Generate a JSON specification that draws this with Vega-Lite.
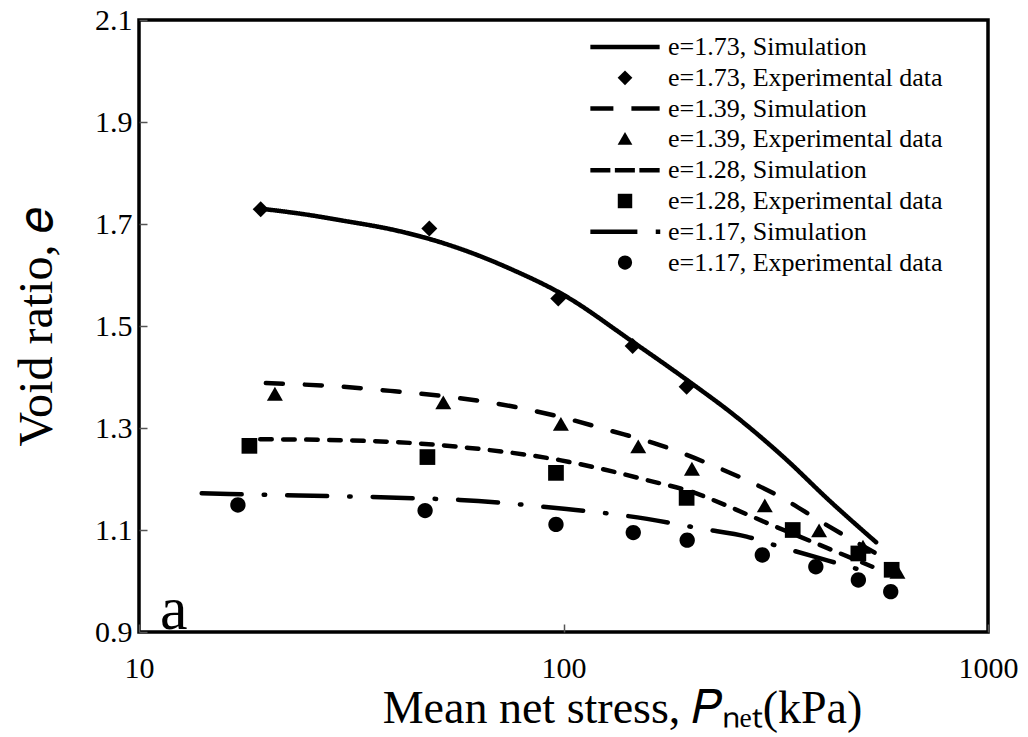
{
  "$schema": "https://vega.github.io/schema/vega-lite/v6.json",
  "width": 849,
  "height": 612,
  "autosize": {"type": "none"},
  "padding": {"left": 139, "top": 20, "right": 40, "bottom": 105},
  "background": "white",
  "config": {
    "font": "Liberation Serif",
    "view": {"stroke": "black", "strokeWidth": 3.5},
    "axis": {"grid": false, "domain": false}
  },
  "datasets": {
    "sim": [
      {"series": "e=1.73, Simulation", "P": 19.4, "e": 1.730},
      {"series": "e=1.73, Simulation", "P": 25, "e": 1.718},
      {"series": "e=1.73, Simulation", "P": 30, "e": 1.707},
      {"series": "e=1.73, Simulation", "P": 40, "e": 1.688},
      {"series": "e=1.73, Simulation", "P": 50, "e": 1.667},
      {"series": "e=1.73, Simulation", "P": 60, "e": 1.645},
      {"series": "e=1.73, Simulation", "P": 75, "e": 1.612},
      {"series": "e=1.73, Simulation", "P": 100, "e": 1.561},
      {"series": "e=1.73, Simulation", "P": 145, "e": 1.470},
      {"series": "e=1.73, Simulation", "P": 200, "e": 1.388},
      {"series": "e=1.73, Simulation", "P": 250, "e": 1.328},
      {"series": "e=1.73, Simulation", "P": 336, "e": 1.237},
      {"series": "e=1.73, Simulation", "P": 420, "e": 1.160},
      {"series": "e=1.73, Simulation", "P": 545, "e": 1.076},
      {"series": "e=1.39, Simulation", "P": 19.9, "e": 1.388},
      {"series": "e=1.39, Simulation", "P": 30, "e": 1.381},
      {"series": "e=1.39, Simulation", "P": 40, "e": 1.372},
      {"series": "e=1.39, Simulation", "P": 54, "e": 1.361},
      {"series": "e=1.39, Simulation", "P": 75, "e": 1.343},
      {"series": "e=1.39, Simulation", "P": 98, "e": 1.322},
      {"series": "e=1.39, Simulation", "P": 130, "e": 1.294},
      {"series": "e=1.39, Simulation", "P": 168, "e": 1.267},
      {"series": "e=1.39, Simulation", "P": 224, "e": 1.227},
      {"series": "e=1.39, Simulation", "P": 324, "e": 1.165},
      {"series": "e=1.39, Simulation", "P": 420, "e": 1.108},
      {"series": "e=1.39, Simulation", "P": 545, "e": 1.054},
      {"series": "e=1.28, Simulation", "P": 19.3, "e": 1.278},
      {"series": "e=1.28, Simulation", "P": 30, "e": 1.276},
      {"series": "e=1.28, Simulation", "P": 45, "e": 1.270},
      {"series": "e=1.28, Simulation", "P": 60, "e": 1.261},
      {"series": "e=1.28, Simulation", "P": 98, "e": 1.237},
      {"series": "e=1.28, Simulation", "P": 157, "e": 1.198},
      {"series": "e=1.28, Simulation", "P": 210, "e": 1.169},
      {"series": "e=1.28, Simulation", "P": 225, "e": 1.159},
      {"series": "e=1.28, Simulation", "P": 309, "e": 1.110},
      {"series": "e=1.28, Simulation", "P": 420, "e": 1.064},
      {"series": "e=1.28, Simulation", "P": 534, "e": 1.028},
      {"series": "e=1.17, Simulation", "P": 14.05, "e": 1.172},
      {"series": "e=1.17, Simulation", "P": 20.3, "e": 1.169},
      {"series": "e=1.17, Simulation", "P": 30, "e": 1.166},
      {"series": "e=1.17, Simulation", "P": 45.9, "e": 1.162},
      {"series": "e=1.17, Simulation", "P": 57, "e": 1.159},
      {"series": "e=1.17, Simulation", "P": 101.6, "e": 1.141},
      {"series": "e=1.17, Simulation", "P": 140, "e": 1.128},
      {"series": "e=1.17, Simulation", "P": 184, "e": 1.112},
      {"series": "e=1.17, Simulation", "P": 210, "e": 1.103},
      {"series": "e=1.17, Simulation", "P": 270, "e": 1.087},
      {"series": "e=1.17, Simulation", "P": 324, "e": 1.067},
      {"series": "e=1.17, Simulation", "P": 420, "e": 1.040},
      {"series": "e=1.17, Simulation", "P": 545, "e": 1.013}
    ],
    "exp": [
      {"series": "e=1.73, Experimental data", "P": 19.35, "e": 1.729},
      {"series": "e=1.73, Experimental data", "P": 48.3, "e": 1.691},
      {"series": "e=1.73, Experimental data", "P": 97.2, "e": 1.554},
      {"series": "e=1.73, Experimental data", "P": 145.5, "e": 1.461},
      {"series": "e=1.73, Experimental data", "P": 195, "e": 1.381},
      {"series": "e=1.39, Experimental data", "P": 20.9, "e": 1.365},
      {"series": "e=1.39, Experimental data", "P": 52.1, "e": 1.348},
      {"series": "e=1.39, Experimental data", "P": 98.6, "e": 1.306},
      {"series": "e=1.39, Experimental data", "P": 150, "e": 1.262},
      {"series": "e=1.39, Experimental data", "P": 200.7, "e": 1.218},
      {"series": "e=1.39, Experimental data", "P": 298, "e": 1.146},
      {"series": "e=1.39, Experimental data", "P": 400, "e": 1.097},
      {"series": "e=1.39, Experimental data", "P": 507.6, "e": 1.065},
      {"series": "e=1.39, Experimental data", "P": 612, "e": 1.016},
      {"series": "e=1.28, Experimental data", "P": 18.2, "e": 1.265},
      {"series": "e=1.28, Experimental data", "P": 47.8, "e": 1.243},
      {"series": "e=1.28, Experimental data", "P": 96, "e": 1.212},
      {"series": "e=1.28, Experimental data", "P": 195, "e": 1.163},
      {"series": "e=1.28, Experimental data", "P": 346.7, "e": 1.100},
      {"series": "e=1.28, Experimental data", "P": 495, "e": 1.054},
      {"series": "e=1.28, Experimental data", "P": 593, "e": 1.022},
      {"series": "e=1.17, Experimental data", "P": 17.1, "e": 1.149},
      {"series": "e=1.17, Experimental data", "P": 47.2, "e": 1.138},
      {"series": "e=1.17, Experimental data", "P": 96, "e": 1.111},
      {"series": "e=1.17, Experimental data", "P": 146, "e": 1.095},
      {"series": "e=1.17, Experimental data", "P": 195.6, "e": 1.080},
      {"series": "e=1.17, Experimental data", "P": 294, "e": 1.051},
      {"series": "e=1.17, Experimental data", "P": 393, "e": 1.028},
      {"series": "e=1.17, Experimental data", "P": 495, "e": 1.002},
      {"series": "e=1.17, Experimental data", "P": 590, "e": 0.979}
    ],
    "note": [{"P": 11.2, "e": 0.906, "t": "a"}]
  },
  "encoding": {
    "x": {
      "field": "P", "type": "quantitative",
      "scale": {"type": "log", "domain": [10, 1000]},
      "axis": {
        "values": [10, 100, 1000], "format": "d",
        "title": "Mean net stress, 𝑃ₙₑₜ(kPa)",
        "titleFont": "Liberation Serif", "titleFontSize": 46, "titleFontWeight": "normal", "titleColor": "black", "titlePadding": 3,
        "titleX": 483,
        "labelFont": "Liberation Serif", "labelFontSize": 30, "labelColor": "black", "labelPadding": 29,
        "labelFlush": false, "labelOverlap": false,
        "tickSize": -8, "tickColor": "#555555", "tickWidth": 1.5
      }
    },
    "y": {
      "field": "e", "type": "quantitative",
      "scale": {"domain": [0.9, 2.1], "nice": false, "zero": false},
      "axis": {
        "values": [0.9, 1.1, 1.3, 1.5, 1.7, 1.9, 2.1], "format": ".1f",
        "title": "Void ratio, 𝑒",
        "titleFont": "Liberation Serif", "titleFontSize": 48, "titleFontWeight": "normal", "titleColor": "black", "titlePadding": 33,
        "labelFont": "Liberation Serif", "labelFontSize": 30, "labelColor": "black", "labelPadding": 15,
        "labelOverlap": false,
        "tickSize": -8, "tickColor": "#555555", "tickWidth": 1.5
      }
    }
  },
  "layer": [
    {
      "data": {"name": "sim"},
      "mark": {"type": "line", "color": "black", "strokeWidth": 4.5, "strokeCap": "round", "interpolate": "monotone"},
      "encoding": {
        "strokeDash": {
          "field": "series", "type": "nominal",
          "scale": {
            "domain": ["e=1.73, Simulation", "e=1.39, Simulation", "e=1.28, Simulation", "e=1.17, Simulation"],
            "range": [[1, 0], [17, 22], [11.5, 11.5], [40, 22, 1.5, 22]]
          },
          "legend": null
        }
      }
    },
    {
      "data": {"name": "exp"},
      "mark": {"type": "point", "filled": true, "color": "black", "opacity": 1, "size": 354},
      "encoding": {
        "shape": {
          "field": "series", "type": "nominal",
          "scale": {
            "domain": ["e=1.73, Simulation", "e=1.73, Experimental data", "e=1.39, Simulation", "e=1.39, Experimental data", "e=1.28, Simulation", "e=1.28, Experimental data", "e=1.17, Simulation", "e=1.17, Experimental data"],
            "range": [
              "M-4,-0.26L4,-0.26L4,0.26L-4,0.26Z",
              "M0,-0.85L0.85,0L0,0.85L-0.85,0Z",
              "M-4,-0.26L-1.34,-0.26L-1.34,0.26L-4,0.26ZM0.74,-0.26L4,-0.26L4,0.26L0.74,0.26Z",
              "M0,-0.85L0.85,0.62L-0.85,0.62Z",
              "M-4,-0.26L-1.69,-0.26L-1.69,0.26L-4,0.26ZM-1.17,-0.26L1.14,-0.26L1.14,0.26L-1.17,0.26ZM1.66,-0.26L4,-0.26L4,0.26L1.66,0.26Z",
              "M-0.835,-0.835L0.835,-0.835L0.835,0.835L-0.835,0.835Z",
              "M-4,-0.26L1.43,-0.26L1.43,0.26L-4,0.26ZM3.55,-0.26L4.07,-0.26L4.07,0.26L3.55,0.26Z",
              "M0.814,0C0.814,0.4496,0.4496,0.814,0,0.814C-0.4496,0.814,-0.814,0.4496,-0.814,0C-0.814,-0.4496,-0.4496,-0.814,0,-0.814C0.4496,-0.814,0.814,-0.4496,0.814,0Z"
            ]
          },
          "legend": {
            "title": null, "orient": "none", "legendX": 473, "legendY": 14, "padding": 0,
            "labelFont": "Liberation Serif", "labelFontSize": 26, "labelColor": "black", "labelLimit": 500, "labelOffset": 30,
            "symbolSize": 300, "rowPadding": 4.8, "symbolStrokeWidth": 0, "symbolFillColor": "black", "symbolOpacity": 1
          }
        }
      }
    },
    {
      "data": {"name": "note"},
      "mark": {"type": "text", "font": "Liberation Serif", "fontSize": 62, "align": "left", "baseline": "alphabetic", "color": "black"},
      "encoding": {"text": {"field": "t", "type": "nominal"}}
    }
  ]
}
